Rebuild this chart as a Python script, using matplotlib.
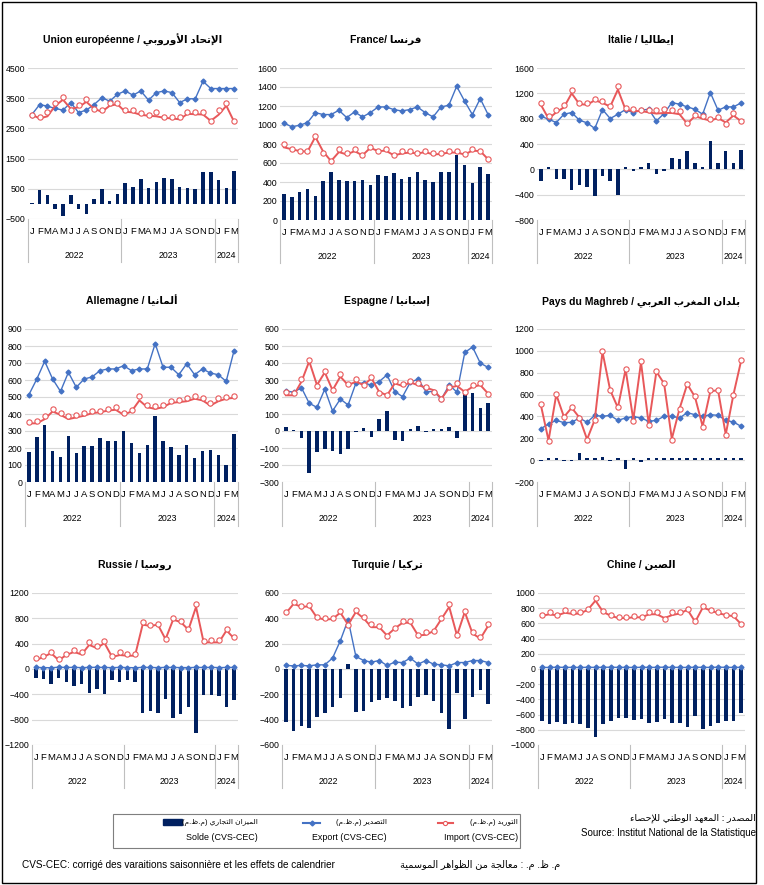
import numpy as np
import matplotlib.pyplot as plt
from matplotlib.lines import Line2D
from matplotlib.patches import Rectangle

plt.rcParams['font.family'] = ['Liberation Sans', 'DejaVu Sans']

# mois jan 2022 -> mars 2024
months = ['J', 'F', 'M', 'A', 'M', 'J', 'J', 'A', 'S', 'O', 'N', 'D'] * 2 + ['J', 'F', 'M']
years = ['2022', '2023', '2024']
year_len = [12, 12, 3]

# Union européenne
eu_sol = [20, 445, 280, -160, -390, 280, -170, -320, 170, 490, 80, 320, 690, 550, 830, 520, 730, 860, 830, 550, 520, 490, 1070, 1070, 800, 520, 1100]
eu_exp = [2960, 3290, 3235, 3160, 3105, 3355, 3025, 3105, 3290, 3520, 3400, 3630, 3740, 3600, 3740, 3435, 3685, 3740, 3685, 3355, 3480, 3480, 4060, 3820, 3820, 3820, 3820]
eu_imp = [2960, 2885, 3050, 3345, 3555, 3125, 3290, 3465, 3150, 3125, 3345, 3345, 3105, 3105, 3015, 2960, 3050, 2885, 2885, 2885, 3050, 3050, 3050, 2750, 3125, 3345, 2740]
eu_imp_tr = [2950, 2830, 2900, 3250, 3450, 3150, 3200, 3380, 3150, 3050, 3250, 3300, 3050, 3030, 2950, 2920, 2900, 2850, 2830, 2800, 2980, 2970, 2960, 2750, 2950, 3250, 2720]

# France
fr_sol = [273, 245, 290, 322, 255, 410, 508, 420, 410, 410, 420, 368, 473, 462, 497, 430, 455, 508, 420, 403, 508, 508, 683, 578, 392, 560, 480]
fr_exp = [1022, 980, 998, 1025, 1130, 1110, 1110, 1155, 1078, 1138, 1085, 1130, 1190, 1190, 1162, 1148, 1162, 1190, 1130, 1085, 1190, 1208, 1407, 1253, 1110, 1278, 1110]
fr_imp = [795, 752, 728, 728, 885, 707, 623, 752, 710, 752, 682, 770, 728, 752, 682, 728, 728, 707, 728, 710, 710, 728, 728, 700, 752, 728, 647]
fr_imp_tr = [765, 745, 725, 720, 875, 720, 620, 715, 690, 725, 680, 760, 725, 730, 680, 700, 710, 700, 715, 690, 695, 710, 710, 690, 730, 725, 640]

# Italie
it_sol = [-180, 35, -145, -145, -330, -250, -280, -420, -100, -180, -405, 35, -20, 30, 95, -80, -20, 180, 160, 285, 95, 40, 450, 105, 285, 105, 300]
it_exp = [839, 791, 739, 870, 897, 776, 734, 645, 944, 802, 870, 944, 891, 933, 949, 765, 881, 1054, 1028, 986, 949, 870, 1212, 933, 986, 986, 1049]
it_imp = [1054, 844, 933, 1022, 1248, 1054, 1049, 1107, 1080, 1001, 1316, 970, 949, 933, 944, 933, 949, 933, 918, 734, 865, 844, 791, 828, 723, 891, 765]
it_imp_tr = [1020, 800, 900, 980, 1200, 1030, 1020, 1090, 1050, 990, 1260, 940, 920, 920, 900, 880, 890, 890, 870, 720, 840, 800, 770, 810, 740, 850, 760]

# Allemagne
de_sol = [176, 263, 337, 184, 147, 269, 171, 214, 210, 259, 239, 239, 298, 229, 171, 220, 386, 239, 206, 157, 220, 141, 180, 186, 157, 98, 282]
de_exp = [514, 606, 710, 606, 533, 645, 557, 606, 618, 655, 665, 665, 684, 655, 665, 665, 814, 675, 675, 631, 696, 631, 665, 641, 631, 592, 773]
de_imp = [353, 361, 386, 429, 406, 386, 396, 406, 420, 420, 431, 439, 406, 425, 504, 455, 445, 455, 478, 484, 494, 504, 494, 465, 494, 500, 504]
de_imp_tr = [345, 345, 370, 415, 395, 370, 380, 390, 405, 410, 420, 425, 395, 415, 480, 440, 430, 440, 465, 470, 475, 490, 480, 450, 475, 490, 495]

# Espagne
es_sol = [25, 8, -44, -245, -123, -107, -117, -138, -107, -8, 15, -38, 70, 120, -50, -56, 11, 31, -8, 9, 9, 21, -44, 222, 226, 133, 163]
es_exp = [236, 228, 255, 163, 139, 246, 118, 188, 153, 281, 281, 271, 291, 330, 232, 202, 287, 305, 232, 232, 188, 271, 228, 462, 494, 399, 374]
es_imp = [228, 222, 307, 419, 267, 354, 242, 334, 275, 305, 271, 320, 222, 212, 295, 275, 295, 281, 261, 232, 188, 261, 281, 232, 271, 281, 216]
es_imp_tr = [210, 210, 290, 410, 270, 345, 240, 320, 270, 290, 270, 310, 230, 210, 280, 265, 285, 270, 255, 240, 190, 255, 265, 230, 260, 270, 220]

# Pays du Maghreb
ma_sol = [-11, 16, 16, -8, -8, 62, 16, 16, 32, -8, 16, -78, 22, -17, 16, 16, 16, 16, 22, 16, 22, 22, 22, 16, 22, 16, 22]
ma_exp = [288, 331, 364, 343, 346, 386, 346, 410, 401, 410, 364, 386, 398, 386, 355, 364, 401, 401, 386, 434, 416, 401, 416, 410, 364, 349, 309]
ma_imp = [514, 178, 605, 392, 486, 386, 187, 364, 1002, 645, 483, 837, 361, 904, 325, 819, 706, 187, 468, 700, 584, 303, 645, 645, 227, 599, 919]
ma_imp_tr = [505, 180, 600, 395, 480, 390, 190, 370, 990, 640, 480, 830, 370, 895, 330, 810, 700, 195, 470, 695, 580, 310, 630, 640, 235, 600, 910]

# Russie
ru_sol = [-145, -160, -240, -145, -213, -261, -235, -372, -314, -393, -171, -208, -171, -208, -688, -657, -688, -472, -767, -715, -604, -1005, -409, -409, -425, -604, -488]
ru_exp = [25, 22, 20, 28, 24, 26, 22, 25, 27, 24, 22, 25, 23, 20, 26, 24, 22, 25, 24, 23, 22, 25, 24, 25, 23, 24, 25]
ru_imp = [171, 208, 261, 156, 235, 303, 266, 425, 367, 435, 198, 261, 235, 235, 741, 688, 709, 477, 799, 752, 630, 1026, 446, 451, 451, 636, 504]
ru_imp_tr = [140, 190, 250, 140, 220, 270, 230, 380, 330, 410, 190, 220, 210, 210, 700, 680, 700, 470, 780, 740, 620, 980, 420, 420, 420, 610, 480]

# Turquie
tr_sol = [-415, -490, -448, -468, -376, -345, -297, -231, 38, -342, -328, -262, -244, -231, -253, -310, -289, -218, -204, -253, -349, -473, -191, -394, -218, -165, -276]
tr_exp = [28, 25, 28, 25, 33, 33, 86, 223, 389, 99, 67, 54, 67, 28, 54, 51, 86, 38, 67, 38, 33, 25, 51, 51, 67, 67, 51]
tr_imp = [447, 529, 494, 508, 407, 402, 402, 460, 349, 463, 407, 355, 341, 262, 323, 376, 381, 270, 289, 297, 402, 513, 270, 460, 289, 249, 355]
tr_imp_tr = [440, 515, 490, 495, 405, 390, 395, 445, 350, 450, 400, 330, 330, 265, 320, 365, 365, 265, 270, 300, 395, 490, 265, 450, 280, 240, 340]

# Chine
cn_sol = [-685, -725, -694, -725, -707, -725, -780, -899, -729, -685, -640, -640, -670, -657, -714, -701, -657, -707, -714, -758, -613, -789, -745, -714, -685, -685, -574]
cn_exp = [22, 20, 24, 21, 22, 20, 23, 21, 22, 24, 21, 22, 20, 23, 21, 22, 24, 21, 22, 20, 23, 22, 21, 24, 22, 21, 22]
cn_imp = [714, 745, 705, 771, 745, 745, 793, 934, 767, 714, 684, 684, 692, 684, 750, 750, 662, 745, 745, 793, 635, 824, 771, 745, 714, 714, 596]
cn_imp_tr = [700, 720, 705, 740, 725, 730, 780, 900, 750, 700, 670, 670, 680, 680, 720, 720, 670, 710, 730, 780, 620, 810, 770, 735, 710, 695, 590]

# mise en forme arabe (formes de presentation + ordre visuel)
AR_FORMS = {
    'ء': (0xFE80, 1), 'آ': (0xFE81, 2), 'أ': (0xFE83, 2), 'ؤ': (0xFE85, 2), 'إ': (0xFE87, 2),
    'ئ': (0xFE89, 4), 'ا': (0xFE8D, 2), 'ب': (0xFE8F, 4), 'ة': (0xFE93, 2), 'ت': (0xFE95, 4),
    'ث': (0xFE99, 4), 'ج': (0xFE9D, 4), 'ح': (0xFEA1, 4), 'خ': (0xFEA5, 4), 'د': (0xFEA9, 2),
    'ذ': (0xFEAB, 2), 'ر': (0xFEAD, 2), 'ز': (0xFEAF, 2), 'س': (0xFEB1, 4), 'ش': (0xFEB5, 4),
    'ص': (0xFEB9, 4), 'ض': (0xFEBD, 4), 'ط': (0xFEC1, 4), 'ظ': (0xFEC5, 4), 'ع': (0xFEC9, 4),
    'غ': (0xFECD, 4), 'ف': (0xFED1, 4), 'ق': (0xFED5, 4), 'ك': (0xFED9, 4), 'ل': (0xFEDD, 4),
    'م': (0xFEE1, 4), 'ن': (0xFEE5, 4), 'ه': (0xFEE9, 4), 'و': (0xFEED, 2), 'ى': (0xFEEF, 2),
    'ي': (0xFEF1, 4),
}
LAM_ALEF = {'آ': 0xFEF5, 'أ': 0xFEF7, 'إ': 0xFEF9, 'ا': 0xFEFB}


def ar(text):
    out = []
    n = len(text)
    prev_joins = False
    i = 0
    while i < n:
        c = text[i]
        if c not in AR_FORMS:
            out.append(c)
            prev_joins = False
            i += 1
            continue
        if c == 'ل' and i + 1 < n and text[i + 1] in LAM_ALEF:
            out.append(chr(LAM_ALEF[text[i + 1]] + (1 if prev_joins else 0)))
            prev_joins = False
            i += 2
            continue
        base, nf = AR_FORMS[c]
        nxt = text[i + 1] if i + 1 < n else ''
        next_joins = nf == 4 and nxt in AR_FORMS and AR_FORMS[nxt][1] > 1
        if prev_joins and next_joins:
            form = 3
        elif prev_joins:
            form = 1
        elif next_joins:
            form = 2
        else:
            form = 0
        if nf == 1:
            form = 0
        out.append(chr(base + form))
        prev_joins = next_joins
        i += 1
    mirror = {'(': ')', ')': '('}
    return ''.join(mirror.get(ch, ch) for ch in reversed(out))


NAVY = '#002060'
BLUE = '#4472C4'
RED = '#E8585A'
W, H = 764, 885

fig = plt.figure(figsize=(7.64, 8.85), dpi=100)


def box(l, r, t, b):
    return [l / W, 1 - b / H, (r - l) / W, (b - t) / H]


panels = [
    ("Union européenne / " + ar("الإتحاد الأوروبي"), eu_sol, eu_exp, eu_imp, eu_imp_tr, (-500, 4500, 1000), (28, 238, 68, 219)),
    ("France/ " + ar("فرنسا"), fr_sol, fr_exp, fr_imp, fr_imp_tr, (0, 1600, 200), (280, 492, 68, 220)),
    ("Italie / " + ar("إيطاليا"), it_sol, it_exp, it_imp, it_imp_tr, (-800, 1600, 400), (537, 745, 68, 220)),
    ("Allemagne / " + ar("ألمانيا"), de_sol, de_exp, de_imp, de_imp_tr, (0, 900, 100), (25, 238, 329, 482)),
    ("Espagne / " + ar("إسبانيا"), es_sol, es_exp, es_imp, es_imp_tr, (-300, 600, 100), (282, 492, 329, 482)),
    ("Pays du Maghreb / " + ar("بلدان المغرب العربي"), ma_sol, ma_exp, ma_imp, ma_imp_tr, (-200, 1200, 200), (537, 745, 329, 482)),
    ("Russie / " + ar("روسيا"), ru_sol, ru_exp, ru_imp, ru_imp_tr, (-1200, 1200, 400), (32, 238, 593, 745)),
    ("Turquie / " + ar("تركيا"), tr_sol, tr_exp, tr_imp, tr_imp_tr, (-600, 600, 200), (282, 492, 593, 745)),
    ("Chine / " + ar("الصين"), cn_sol, cn_exp, cn_imp, cn_imp_tr, (-1000, 1000, 200), (538, 745, 593, 745)),
]

x = np.arange(len(months))
edges = np.concatenate([[0], np.cumsum(year_len)]) - 0.5

for title, sol, exp, imp, imp_tr, (lo, hi, step), pos in panels:
    ax = fig.add_axes(box(*pos))
    ax.bar(x, sol, width=0.45, color=NAVY, zorder=2)
    ax.plot(x, exp, color=BLUE, lw=1.0, marker='D', ms=2.5, zorder=3)
    ax.plot(x, imp_tr, color=RED, lw=1.4, zorder=4)
    ax.plot(x, imp, ls='none', marker='o', ms=3.8, mfc='white', mec=RED, mew=0.8, zorder=5)
    ax.set_xlim(-0.5, len(months) - 0.5)
    ax.set_ylim(lo, hi)
    ax.set_yticks(np.arange(lo, hi + step, step))
    ax.grid(axis='y', color='#D9D9D9', lw=0.8)
    ax.set_axisbelow(True)
    for s in ax.spines.values():
        s.set_visible(False)
    ax.tick_params(axis='y', length=0, labelsize=6.3, pad=2)
    ax.set_xticks(x)
    ax.set_xticklabels(months, fontsize=6.8)
    ax.tick_params(axis='x', length=0, pad=6)
    for e in edges:
        ax.plot([e, e], [0, -0.285], transform=ax.get_xaxis_transform(), color='#BFBFBF', lw=0.8, clip_on=False)
    for yr, a, b in zip(years, edges[:-1], edges[1:]):
        ax.text((a + b) / 2, -0.24, yr, transform=ax.get_xaxis_transform(), ha='center', va='center', fontsize=6.3)
    ax.set_title(title, fontsize=7.5, fontweight='bold', pad=18)

# legende
fig.add_artist(Rectangle((113 / W, 1 - 848 / H), (520 - 113) / W, 34 / H, transform=fig.transFigure,
                         fill=False, ec='#7F7F7F', lw=0.8))
fig.add_artist(Rectangle((163 / W, 1 - 825 / H), 19 / W, 6 / H, transform=fig.transFigure, color=NAVY))
fig.add_artist(Line2D([303 / W, 320 / W], [1 - 823 / H] * 2, transform=fig.transFigure, color=BLUE, lw=1.5))
fig.add_artist(Line2D([311.5 / W], [1 - 823 / H], transform=fig.transFigure, color=BLUE, marker='D', ms=2.5))
fig.add_artist(Line2D([438 / W, 453 / W], [1 - 823 / H] * 2, transform=fig.transFigure, color=RED, lw=1.5))
fig.add_artist(Line2D([445.5 / W], [1 - 823 / H], transform=fig.transFigure, color=RED, marker='o', ms=3,
                      mfc='white', mec=RED, mew=0.8))
leg = [(258, "الميزان التجاري (م.ظ.م)", "Solde (CVS-CEC)"),
       (387, "التصدير (م.ظ.م)", "Export (CVS-CEC)"),
       (518, "التوريد (م.ظ.م)", "Import (CVS-CEC)")]
for xr, t_ar, t_fr in leg:
    fig.text(xr / W, 1 - 822 / H, ar(t_ar), ha='right', va='center', fontsize=5.4)
    fig.text(xr / W, 1 - 838 / H, t_fr, ha='right', va='center', fontsize=6.4)

# source
fig.text(756 / W, 1 - 818 / H, ar("المصدر : المعهد الوطني للإحصاء"), ha='right', va='center', fontsize=6.8)
fig.text(756 / W, 1 - 833 / H, "Source: Institut National de la Statistique", ha='right', va='center', fontsize=7)

# notes
fig.text(22 / W, 1 - 865 / H, "CVS-CEC: corrigé des varaitions saisonnière et les effets de calendrier",
         ha='left', va='center', fontsize=7.2)
fig.text(560 / W, 1 - 865 / H, ar("م. ظ. م. : معالجة من الظواهر الموسمية"), ha='right', va='center', fontsize=7)

# cadre
fig.add_artist(Rectangle((2 / W, 2 / H), 754 / W, 881 / H, transform=fig.transFigure, fill=False, ec='black', lw=1.0))

fig.savefig("out.png", dpi=100)
